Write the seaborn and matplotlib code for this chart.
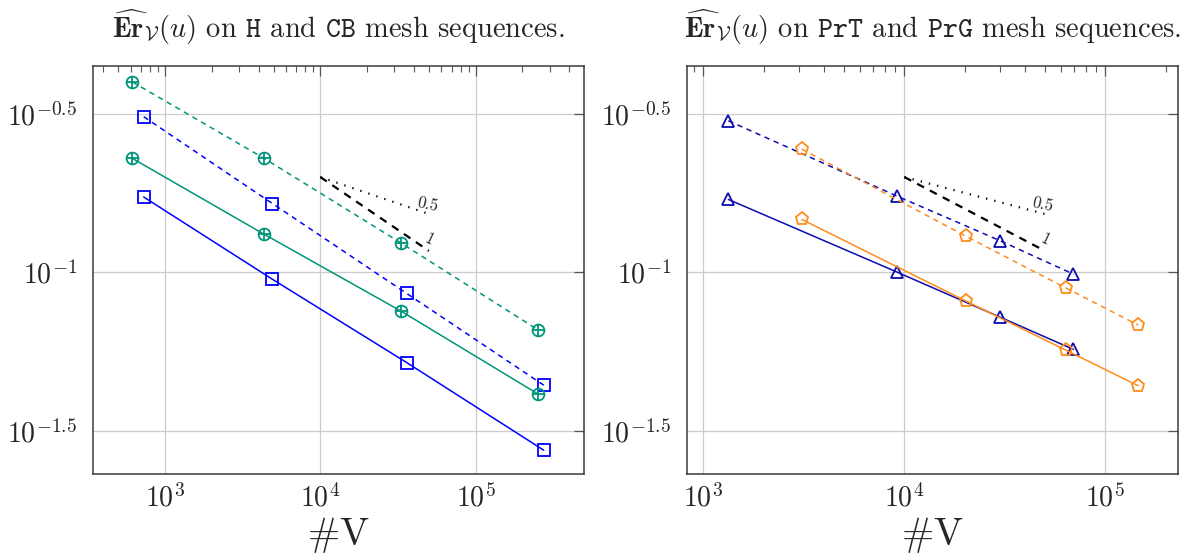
import numpy as np
import pandas as pd
import matplotlib
matplotlib.use("Agg")
import matplotlib.pyplot as plt
import seaborn as sns
from matplotlib.ticker import FixedLocator, FixedFormatter, LogLocator, NullFormatter, NullLocator

# values (log-log error vs number of vertices)
h_nv = [729, 4913, 35937, 274625]
h_err_dash = [0.310, 0.165, 0.0859, 0.0441]
h_err_solid = [0.173, 0.0952, 0.0520, 0.0275]

cb_nv = [616, 4350, 32960, 253600]
cb_err_dash = [0.399, 0.229, 0.124, 0.0658]
cb_err_solid = [0.229, 0.132, 0.0756, 0.0413]

prt_nv = [1332, 9224, 29900, 69340]
prt_err_dash = [0.301, 0.174, 0.126, 0.0988]
prt_err_solid = [0.170, 0.1002, 0.0723, 0.0572]

prg_nv = [3092, 20280, 63530, 145900]
prg_err_dash = [0.245, 0.130, 0.0894, 0.0682]
prg_err_solid = [0.147, 0.0812, 0.0569, 0.0439]

# slope triangles
ref_x = [1e4, 5e4]
ref_half = [0.2, 0.2 * 5 ** (-1 / 6)]
ref_one = [0.2, 0.2 * 5 ** (-1 / 3)]

ytick_vals = [10 ** -1.5, 10 ** -1, 10 ** -0.5]
ytick_labels = [r"$10^{-1.5}$", r"$10^{-1}$", r"$10^{-0.5}$"]
xtick_vals = [1e3, 1e4, 1e5]
xtick_labels = [r"$10^{3}$", r"$10^{4}$", r"$10^{5}$"]

sns.set_style("white")
plt.rcParams["font.family"] = ["cmr10", "DejaVu Serif"]
plt.rcParams["mathtext.fontset"] = "cm"
plt.rcParams["axes.formatter.use_mathtext"] = True
plt.rcParams["axes.unicode_minus"] = False

green = "#00957a"
blue = "#0000ff"
navy = "#0c0cb0"
orange = "#ff8c1a"
dash = (0, (3.5, 3))

fig = plt.figure(figsize=(11.84, 5.6), dpi=100, facecolor="white")
ax1 = fig.add_axes([0.0783, 0.1536, 0.4149, 0.7286])
ax2 = fig.add_axes([0.5800, 0.1536, 0.4147, 0.7286])


def series(ax, xs, ys, color, ls, marker, ms=8.5, plus=False):
    df = pd.DataFrame({"nv": xs, "err": ys})
    sns.lineplot(data=df, x="nv", y="err", ax=ax, color=color, linestyle=ls,
                 linewidth=1.1, marker=marker, markersize=ms,
                 markerfacecolor="none", markeredgecolor=color,
                 markeredgewidth=1.3, sort=False, zorder=3)
    if plus:
        sns.lineplot(data=df, x="nv", y="err", ax=ax, color=color, linestyle="none",
                     marker="+", markersize=ms, markeredgecolor=color,
                     markeredgewidth=1.3, sort=False, zorder=4)


def slopes(ax):
    sns.lineplot(x=ref_x, y=ref_half, ax=ax, color="black", linestyle=(0, (0.6, 3.2)),
                 linewidth=1.6, zorder=2)
    sns.lineplot(x=ref_x, y=ref_one, ax=ax, color="black", linestyle=(0, (3.5, 3)),
                 linewidth=1.6, zorder=2)
    ax.text(ref_x[1] * 0.98, ref_half[1] * 1.07, "0.5", fontsize=12, style="italic",
            rotation=-12, ha="center", va="center", family=["cmr10", "DejaVu Serif"])
    ax.text(ref_x[1] * 1.0, ref_one[1] * 1.09, "1", fontsize=12, style="italic",
            rotation=-25, ha="center", va="center", family=["cmr10", "DejaVu Serif"])


def settings_plot(ax, xlim, title):
    ax.set_xscale("log")
    ax.set_yscale("log")
    ax.set_xlim(*xlim)
    ax.set_ylim(10 ** -1.6356, 10 ** -0.3486)
    ax.xaxis.set_major_locator(FixedLocator(xtick_vals))
    ax.xaxis.set_major_formatter(FixedFormatter(xtick_labels))
    ax.xaxis.set_minor_locator(LogLocator(base=10, subs=np.arange(2, 10)))
    ax.xaxis.set_minor_formatter(NullFormatter())
    ax.yaxis.set_major_locator(FixedLocator(ytick_vals))
    ax.yaxis.set_major_formatter(FixedFormatter(ytick_labels))
    ax.yaxis.set_minor_locator(NullLocator())
    ax.grid(True, which="major", color="#cccccc", linewidth=0.9)
    ax.set_axisbelow(True)
    ax.tick_params(which="both", direction="in", top=True, right=True, color="#555555")
    ax.tick_params(which="major", length=7, width=0.9, labelsize=20)
    ax.tick_params(axis="x", which="major", pad=7)
    ax.tick_params(axis="y", which="major", pad=11)
    ax.tick_params(which="minor", length=4.5, width=0.8)
    for sp in ax.spines.values():
        sp.set_color("#3a3a3a")
        sp.set_linewidth(1.1)
    ax.set_xlabel(r"$\#$V", fontsize=28, labelpad=2)
    ax.set_ylabel("")
    ax.set_title(title, fontsize=20.5, pad=20)


series(ax1, cb_nv, cb_err_dash, green, dash, "o", plus=True)
series(ax1, h_nv, h_err_dash, blue, dash, "s")
series(ax1, cb_nv, cb_err_solid, green, "-", "o", plus=True)
series(ax1, h_nv, h_err_solid, blue, "-", "s")
slopes(ax1)
settings_plot(ax1, (342.3, 498200),
              r"$\widehat{\mathbf{Er}}_{\mathcal{V}}(u)$ on $\mathtt{H}$ and $\mathtt{CB}$ mesh sequences.")

series(ax2, prt_nv, prt_err_dash, navy, dash, "^", ms=8)
series(ax2, prg_nv, prg_err_dash, orange, dash, "p", ms=9.5)
series(ax2, prt_nv, prt_err_solid, navy, "-", "^", ms=8)
series(ax2, prg_nv, prg_err_solid, orange, "-", "p", ms=9.5)
slopes(ax2)
settings_plot(ax2, (827, 229000),
              r"$\widehat{\mathbf{Er}}_{\mathcal{V}}(u)$ on $\mathtt{PrT}$ and $\mathtt{PrG}$ mesh sequences.")

plt.savefig("out.png", dpi=100, facecolor="white")
